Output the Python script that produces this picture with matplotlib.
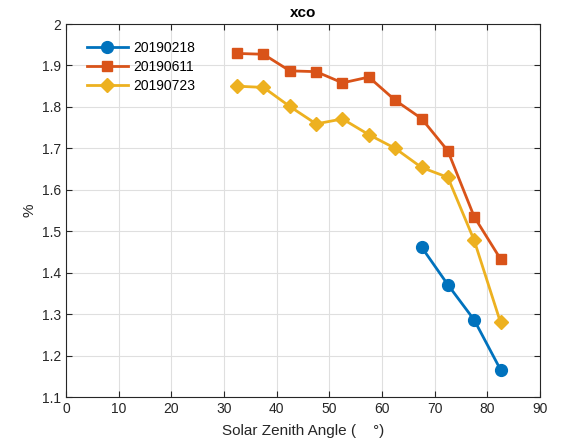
import matplotlib
matplotlib.use("Agg")
import matplotlib.pyplot as plt

plt.rcParams['font.family'] = ['Liberation Sans', 'DejaVu Sans']

# 数据
sza_0218 = [67.5, 72.5, 77.5, 82.5]
xco_0218 = [1.462, 1.371, 1.286, 1.166]

sza_all = [32.5, 37.5, 42.5, 47.5, 52.5, 57.5, 62.5, 67.5, 72.5, 77.5, 82.5]
xco_0611 = [1.929, 1.927, 1.887, 1.885, 1.858, 1.872, 1.816, 1.772, 1.694, 1.535, 1.433]
xco_0723 = [1.850, 1.847, 1.801, 1.759, 1.771, 1.733, 1.700, 1.654, 1.630, 1.478, 1.280]

labels = ['20190218', '20190611', '20190723']
colors = ['#0072BD', '#D95319', '#EDB120']

fig = plt.figure(figsize=(5.61, 4.48), dpi=100)
ax = fig.add_axes([0.1176, 0.1138, 0.845, 0.8326])

ax.plot(sza_0218, xco_0218, '-o', color=colors[0], lw=2, ms=8.5, label=labels[0])
ax.plot(sza_all, xco_0611, '-s', color=colors[1], lw=2, ms=7, label=labels[1])
ax.plot(sza_all, xco_0723, '-D', color=colors[2], lw=2, ms=7.5, label=labels[2])

ax.set_xlim(0, 90)
ax.set_ylim(1.1, 2.0)
ax.set_xticks(range(0, 91, 10))
ax.set_yticks([1.1, 1.2, 1.3, 1.4, 1.5, 1.6, 1.7, 1.8, 1.9, 2.0])
ax.set_yticklabels(['1.1', '1.2', '1.3', '1.4', '1.5', '1.6', '1.7', '1.8', '1.9', '2'])
ax.grid(True, color='#dfdfdf', lw=0.8)
ax.set_axisbelow(True)
ax.tick_params(direction='in', top=True, right=True, labelsize=10, colors='#262626', length=4)
for s in ax.spines.values():
    s.set_color('#262626')
    s.set_linewidth(0.8)

ax.set_title('xco', fontweight='bold', fontsize=11, pad=5)
ax.set_xlabel('Solar Zenith Angle (    °)', fontsize=11, color='#262626', labelpad=6)
ax.set_ylabel('%', fontsize=11, color='#262626', labelpad=4)
ax.legend(loc='upper left', frameon=False, fontsize=10, handlelength=3.0,
          bbox_to_anchor=(0.02, 0.985), borderaxespad=0.4,
          labelspacing=0.38, handletextpad=0.35)

plt.savefig("out.png", dpi=100)
